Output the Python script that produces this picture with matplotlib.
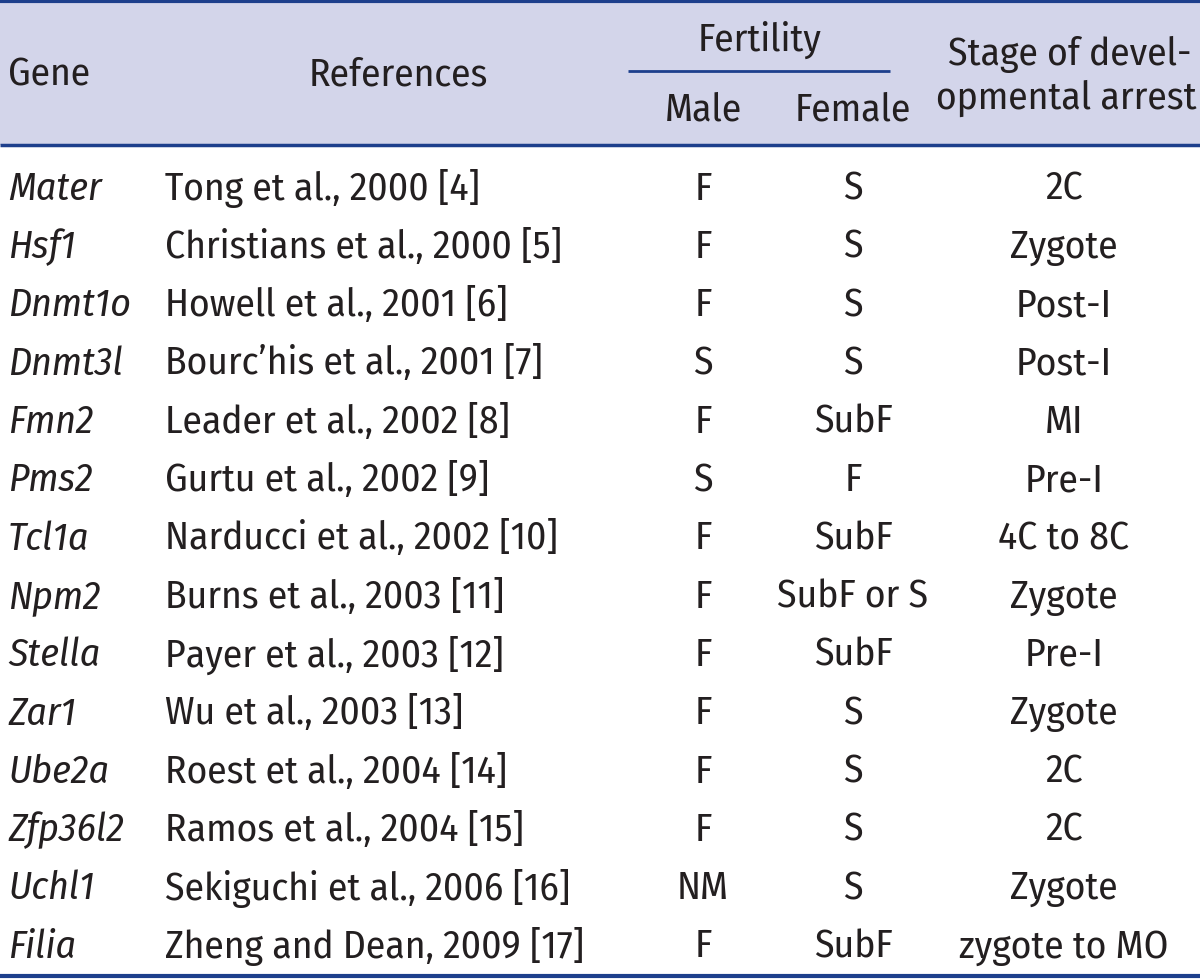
import matplotlib
matplotlib.use("Agg")
import matplotlib.pyplot as plt
from matplotlib import font_manager

entries = font_manager.fontManager.ttflist
names = {f.name for f in entries}
italic_names = {f.name for f in entries if f.style in ("italic", "oblique")}
cands = ["PT Sans Narrow", "Fira Sans Condensed", "Roboto Condensed", "Asap Condensed",
         "Barlow Semi Condensed", "Archivo Narrow", "Open Sans"]
FONT = next((n for n in cands if n in names and n in italic_names), "DejaVu Sans")

genes = ["Mater", "Hsf1", "Dnmt1o", "Dnmt3l", "Fmn2", "Pms2", "Tcl1a", "Npm2",
         "Stella", "Zar1", "Ube2a", "Zfp36l2", "Uchl1", "Filia"]
references = ["Tong et al., 2000 [4]", "Christians et al., 2000 [5]", "Howell et al., 2001 [6]",
              "Bourc\u2019his et al., 2001 [7]", "Leader et al., 2002 [8]", "Gurtu et al., 2002 [9]",
              "Narducci et al., 2002 [10]", "Burns et al., 2003 [11]", "Payer et al., 2003 [12]",
              "Wu et al., 2003 [13]", "Roest et al., 2004 [14]", "Ramos et al., 2004 [15]",
              "Sekiguchi et al., 2006 [16]", "Zheng and Dean, 2009 [17]"]
male = ["F", "F", "F", "S", "F", "S", "F", "F", "F", "F", "F", "F", "NM", "F"]
female = ["S", "S", "S", "S", "SubF", "F", "SubF", "SubF or S", "SubF", "S", "S", "S", "S", "SubF"]
stage = ["2C", "Zygote", "Post-I", "Post-I", "MI", "Pre-I", "4C to 8C", "Zygote", "Pre-I",
         "Zygote", "2C", "2C", "Zygote", "zygote to MO"]

W, H = 1200, 980
fig = plt.figure(figsize=(12, 9.8), dpi=100)
ax = fig.add_axes([0, 0, 1, 1])
ax.set_xlim(0, W)
ax.set_ylim(H, 0)
ax.axis("off")

# fit font size so the longest reference text spans about 420 px as in the reference
probe = ax.text(0, 0, references[-1], fontfamily=FONT, fontsize=30)
r = fig.canvas.get_renderer()
wpx = probe.get_window_extent(r).width
probe.remove()
FS = 30 * 420 / wpx

LINE = "#1d3f8c"
HEAD_BG = "#d3d5ea"
TXT = "#231f20"

ax.add_patch(plt.Rectangle((0, 0), W, 145, color=HEAD_BG, zorder=0, lw=0))
ax.plot([0, W], [1.5, 1.5], color=LINE, lw=3, solid_capstyle="butt")
ax.plot([0, W], [145, 145], color=LINE, lw=2.5, solid_capstyle="butt")
ax.plot([628, 890], [71, 71], color=LINE, lw=2, solid_capstyle="butt")
ax.plot([0, W], [976, 976], color=LINE, lw=3, solid_capstyle="butt")

kw = dict(fontfamily=FONT, fontsize=FS, color=TXT, va="center_baseline")
ax.text(8, 71, "Gene", ha="left", **kw)
ax.text(398, 71, "References", ha="center", **kw)
ax.text(760, 36, "Fertility", ha="center", **kw)
ax.text(703, 106, "Male", ha="center", **kw)
ax.text(853, 106, "Female", ha="center", **kw)
ax.text(1070, 50, "Stage of devel-", ha="center", **kw)
ax.text(1066, 94, "opmental arrest", ha="center", **kw)

y0, dy = 185, 58.3
for i in range(len(genes)):
    y = y0 + i * dy
    ax.text(8, y, genes[i], ha="left", style="italic", **kw)
    ax.text(165, y, references[i], ha="left", **kw)
    ax.text(703, y, male[i], ha="center", **kw)
    ax.text(853, y, female[i], ha="center", **kw)
    ax.text(1064, y, stage[i], ha="center", **kw)

fig.savefig("out.png", dpi=100)
